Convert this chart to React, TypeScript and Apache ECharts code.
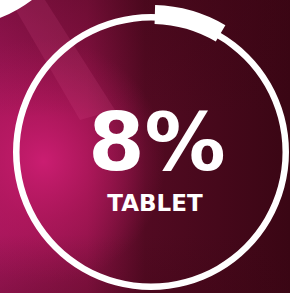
import React, { useEffect, useRef } from "react";
import * as echarts from "echarts";

const categories = ["TABLET"];
const shares = [8];
const total = 100;

export default function App() {
  const ref = useRef<HTMLDivElement>(null);
  useEffect(() => {
    if (!ref.current) return;
    const chart = echarts.init(ref.current, null, { renderer: "svg" });
    const share = shares[0];
    chart.setOption({
      animation: false,
      backgroundColor: "#4a0a1c",
      graphic: [
        {
          type: "rect",
          z: -10,
          shape: { x: 0, y: 0, width: 290, height: 293 },
          style: {
            fill: new echarts.graphic.LinearGradient(0, 0, 1, 0, [
              { offset: 0, color: "#a3165a" },
              { offset: 0.3, color: "#8a1245" },
              { offset: 0.5, color: "#520a22" },
              { offset: 1, color: "#3a0614" },
            ]),
          },
        },
        {
          type: "rect",
          z: -9,
          shape: { x: 0, y: 0, width: 290, height: 293 },
          style: {
            fill: new echarts.graphic.RadialGradient(0.15, 0.55, 0.42, [
              { offset: 0, color: "rgba(205,30,115,0.95)" },
              { offset: 0.5, color: "rgba(190,25,100,0.5)" },
              { offset: 1, color: "rgba(190,25,100,0)" },
            ]),
          },
        },
        {
          type: "rect",
          z: -8,
          shape: { x: 0, y: 0, width: 290, height: 293 },
          style: {
            fill: new echarts.graphic.LinearGradient(0, 0, 0, 1, [
              { offset: 0, color: "rgba(60,5,20,0.35)" },
              { offset: 0.4, color: "rgba(60,5,20,0)" },
              { offset: 0.8, color: "rgba(60,5,20,0)" },
              { offset: 1, color: "rgba(60,5,20,0.25)" },
            ]),
          },
        },
        {
          type: "polygon",
          z: -7,
          shape: { points: [[10, 0], [45, 0], [115, 110], [80, 120]] },
          style: { fill: "rgba(230,90,150,0.15)" },
        },
        {
          type: "circle",
          z: 5,
          shape: { cx: -52, cy: -112, r: 140 },
          style: { fill: "#ffffff" },
        },
        {
          type: "text",
          z: 10,
          x: 157,
          y: 142,
          style: {
            text: `${share}%`,
            fill: "#ffffff",
            font: "bold 81px 'DejaVu Sans'",
            textAlign: "center",
            textVerticalAlign: "middle",
          },
        },
        {
          type: "text",
          z: 10,
          x: 155,
          y: 203,
          style: {
            text: categories[0],
            fill: "#ffffff",
            font: "bold 23px 'DejaVu Sans'",
            textAlign: "center",
            textVerticalAlign: "middle",
          },
        },
      ],
      series: [
        {
          type: "pie",
          center: [151, 152],
          radius: [131.5, 138],
          silent: true,
          label: { show: false },
          labelLine: { show: false },
          emphasis: { disabled: true },
          itemStyle: { color: "#ffffff", borderWidth: 0 },
          data: [{ value: total, name: "ring" }],
        },
        {
          type: "pie",
          center: [151, 152],
          radius: [128, 147],
          startAngle: 88.4,
          clockwise: true,
          silent: true,
          label: { show: false },
          labelLine: { show: false },
          emphasis: { disabled: true },
          z: 3,
          data: [
            { value: share, name: categories[0], itemStyle: { color: "#ffffff", borderWidth: 0 } },
            { value: total - share, name: "rest", itemStyle: { color: "rgba(0,0,0,0)", borderWidth: 0 } },
          ],
        },
      ],
    });
    return () => chart.dispose();
  }, []);
  return (
    <div
      ref={ref}
      style={{ position: "fixed", left: 0, top: 0, width: 290, height: 293 }}
    />
  );
}
